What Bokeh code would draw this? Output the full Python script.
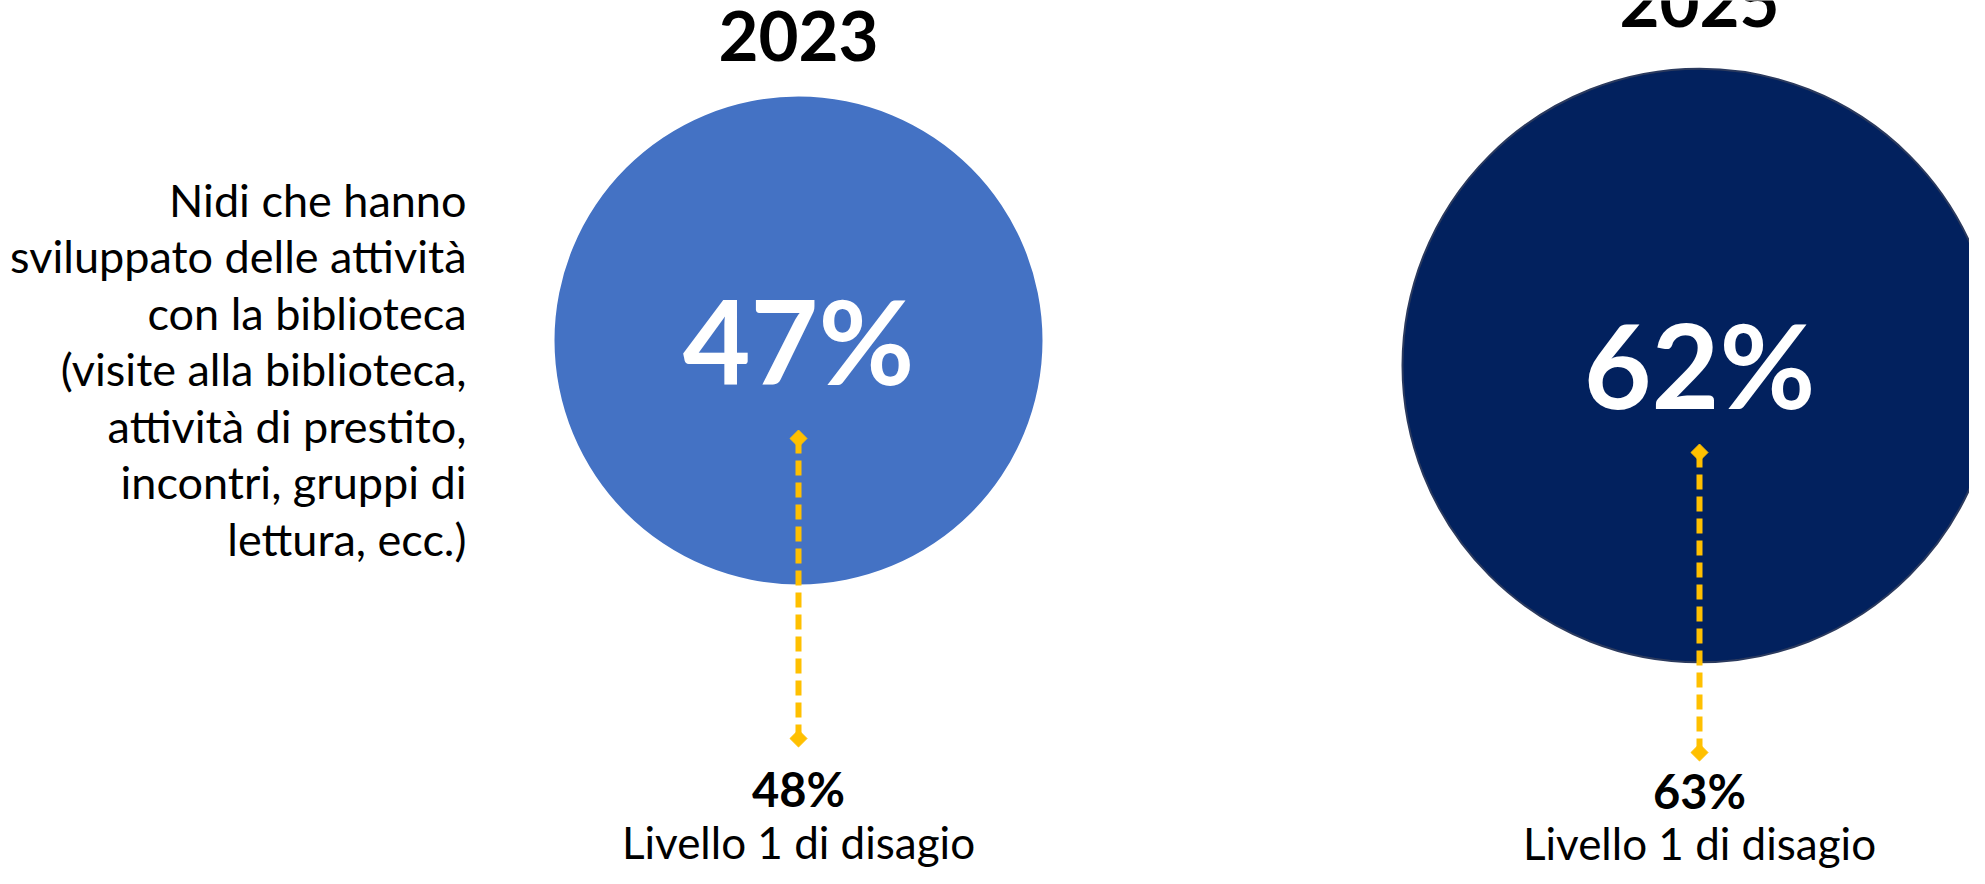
from bokeh.plotting import figure
from bokeh.models import Range1d
from bokeh.core.properties import value
from bokeh.embed import file_html
from bokeh.resources import INLINE
import math

# ---------------- data ----------------
years = ["2023", "2025"]
nidi_pct = [47, 62]            # Nidi che hanno sviluppato attività con la biblioteca
level1_pct = [48, 63]          # Livello 1 di disagio
level_label = "Livello 1 di disagio"
desc_lines = [
    "Nidi che hanno",
    "sviluppato delle attività",
    "con la biblioteca",
    "(visite alla biblioteca,",
    "attività di prestito,",
    "incontri, gruppi di",
    "lettura, ecc.)",
]

# ---------------- layout (picture pixel coordinates) ----------------
W, H = 1969, 868
cx = [798, 1699]
cy = [340, 365]
radius = [244, 297]
circle_fill = ["#4472C4", "#02215E"]
circle_line = ["#4472C4", "#2B3A5E"]
circle_lw = [0, 2]
year_base = [64, 30]
pct_base = [386, 410]
line_top = [438, 452]
line_bot = [738, 752]
lvl_pct_base = [809, 811]
lvl_lab_base = [861, 862]
desc_right = 466
desc_first_base = 219
desc_step = 56.5

K = 0.37   # baseline correction (fraction of font size)
K0 = 3     # constant baseline correction (px)

FONT = value("Lato")
GOLD = "#FFC000"

YEAR_FS, PCT_FS, LVLP_FS, LVL_FS, DESC_FS = 69, 117, 47, 44, 45


def fix(bases, fs):
    return [b - K * fs - K0 for b in bases]


p = figure(width=W, height=H, output_backend="svg", toolbar_location=None,
           x_range=Range1d(0, W), y_range=Range1d(H, 0),
           min_border=0, background_fill_color="white", border_fill_color="white")
p.axis.visible = False
p.grid.visible = False
p.outline_line_color = None

# circles
for i in range(len(years)):
    p.ellipse(x=[cx[i]], y=[cy[i]], width=[2 * radius[i]], height=[2 * radius[i]],
              fill_color=circle_fill[i],
              line_color=circle_line[i] if circle_lw[i] else None,
              line_width=max(circle_lw[i], 1))

# year titles
p.text(x=cx, y=fix(year_base, YEAR_FS), text=years, text_font=FONT,
       text_font_size=f"{YEAR_FS}px", text_font_style="bold", text_color="black",
       text_align="center", text_baseline="alphabetic")

# big percentages
p.text(x=cx, y=fix(pct_base, PCT_FS), text=[f"{v}%" for v in nidi_pct], text_font=FONT,
       text_font_size=f"{PCT_FS}px", text_font_style="bold", text_color="white",
       text_align="center", text_baseline="alphabetic")

# dashed connectors with diamond ends
p.segment(x0=cx, y0=line_top, x1=cx, y1=line_bot, line_color=GOLD, line_width=6,
          line_dash="15 7")
p.scatter(x=cx + cx, y=line_top + line_bot, marker="square", size=12,
          angle=math.pi / 4, fill_color=GOLD, line_color=GOLD)

# level 1 values
p.text(x=cx, y=fix(lvl_pct_base, LVLP_FS), text=[f"{v}%" for v in level1_pct],
       text_font=FONT, text_font_size=f"{LVLP_FS}px", text_font_style="bold",
       text_color="black", text_align="center", text_baseline="alphabetic")
p.text(x=cx, y=fix(lvl_lab_base, LVL_FS), text=[level_label] * len(years), text_font=FONT,
       text_font_size=f"{LVL_FS}px", text_color="black", text_align="center",
       text_baseline="alphabetic")

# description
desc_y = [desc_first_base + i * desc_step for i in range(len(desc_lines))]
p.text(x=[desc_right] * len(desc_lines), y=fix(desc_y, DESC_FS),
       text=desc_lines, text_font=FONT, text_font_size=f"{DESC_FS}px", text_color="black",
       text_align="right", text_baseline="alphabetic")

open("out.html", "w").write(file_html(p, INLINE))
